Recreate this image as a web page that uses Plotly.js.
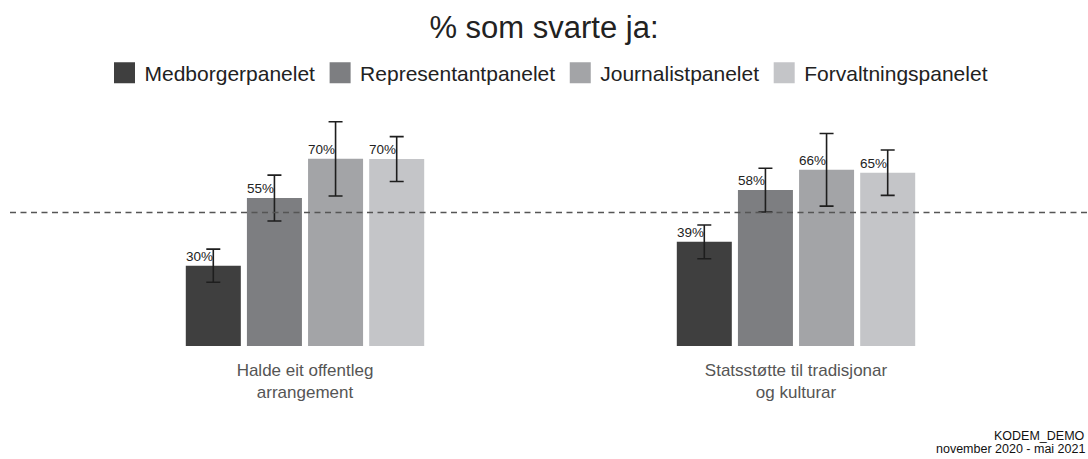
<!DOCTYPE html>
<html><head><meta charset="utf-8">
<script src="https://cdn.plot.ly/plotly-3.0.1.min.js"></script>
<style>html,body{margin:0;padding:0;background:#fff}</style>
</head><body><div id="chart" style="width:1088px;height:459px"></div>
<script>
const categories = ["Halde eit offentleg<br>arrangement", "Statsstøtte til tradisjonar<br>og kulturar"];
const seriesNames = ["Medborgerpanelet", "Representantpanelet", "Journalistpanelet", "Forvaltningspanelet"];
const medborger = [30.1, 39.0];
const representant = [55.4, 58.4];
const journalist = [70.1, 66.0];
const forvaltning = [70.0, 64.9];
const medborgerErr = [6.2, 6.3];
const representantErr = [8.6, 8.2];
const journalistErr = [13.9, 13.6];
const forvaltningErr = [8.4, 8.5];
const referenceLine = 50;
const titleText = "% som svarte ja:";
const sourceLines = ["KODEM_DEMO", "november 2020 - mai 2021"];

const colors = ["#3f3f3f", "#7d7e81", "#a3a4a7", "#c4c5c8"];
const values = [medborger, representant, journalist, forvaltning];
const errors = [medborgerErr, representantErr, journalistErr, forvaltningErr];

const bargap = 0.502, bargroupgap = 0.1;
const slot = (1 - bargap) / seriesNames.length;
const halfBar = slot * (1 - bargroupgap) / 2;

const traces = seriesNames.map((name, i) => ({
  type: 'bar', name: name, x: categories, y: values[i],
  marker: {color: colors[i]},
  error_y: {type: 'data', array: errors[i], visible: true, color: '#1e1e1e', thickness: 1.6, width: 7},
  hoverinfo: 'y'
}));

const annotations = [];
seriesNames.forEach((name, i) => {
  values[i].forEach((v, c) => {
    annotations.push({
      x: c + (i - (seriesNames.length - 1) / 2) * slot - halfBar,
      y: v, xref: 'x', yref: 'y', xanchor: 'left', yanchor: 'bottom',
      text: Math.round(v) + '%', showarrow: false,
      font: {size: 13.5, color: '#222'}, borderpad: 0, xshift: -1, yshift: 1
    });
  });
});
annotations.push({x: 1, y: -0.337, xref: 'paper', yref: 'paper', xanchor: 'right', yanchor: 'middle',
  text: sourceLines[0], showarrow: false, font: {size: 12.5, color: '#111'}, xshift: -1});
annotations.push({x: 1, y: -0.386, xref: 'paper', yref: 'paper', xanchor: 'right', yanchor: 'middle',
  text: sourceLines[1], showarrow: false, font: {size: 12.5, color: '#111'}, xshift: -1});

const layout = {
  width: 1088, height: 459,
  margin: {l: 10, r: 0, t: 79, b: 113, autoexpand: false},
  paper_bgcolor: '#fff', plot_bgcolor: '#fff',
  font: {family: 'Liberation Sans, Arial, sans-serif', color: '#222'},
  title: {text: titleText, font: {size: 31, color: '#222'}, x: 0.5, xanchor: 'center', y: 1 - 27/459, yanchor: 'middle', yref: 'container'},
  barmode: 'group', bargap: bargap, bargroupgap: bargroupgap,
  showlegend: true,
  legend: {orientation: 'h', x: 0.5, xanchor: 'center', y: 1 - 73/459, yanchor: 'middle', yref: 'container',
    font: {size: 21, color: '#222'}, bgcolor: 'rgba(0,0,0,0)', traceorder: 'normal'},
  xaxis: {type: 'category', range: [-0.6008, 1.5947], showgrid: false, zeroline: false, showline: false,
    ticks: '', ticklabelstandoff: 12, tickfont: {size: 17, color: '#555'}},
  yaxis: {range: [0, 100], showgrid: false, zeroline: false, showline: false, showticklabels: false, ticks: ''},
  shapes: [{type: 'line', xref: 'paper', yref: 'y', x0: 0, x1: 1, y0: referenceLine, y1: referenceLine,
    line: {color: '#555', width: 1.5, dash: '6px,4.5px'}}],
  annotations: annotations
};

Plotly.newPlot('chart', traces, layout, {displayModeBar: false, staticPlot: true}).then(() => {
  document.querySelectorAll('.legendpoints path').forEach(p => {
    const t = p.getAttribute('transform') || '';
    p.setAttribute('transform', t + ' scale(1.75)');
  });
});
</script></body></html>
